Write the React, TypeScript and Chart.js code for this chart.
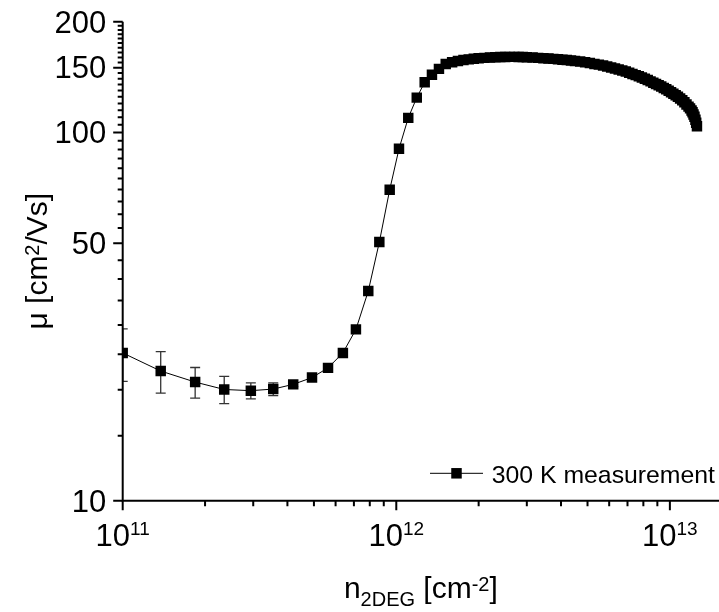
import React, { useEffect, useRef } from 'react';
import { Chart, registerables } from 'chart.js';

Chart.register(...registerables);

// n2DEG sheet density [cm^-2]
const densityCm2 = [
  1.0e11, 1.377e11, 1.84e11, 2.35e11, 2.94e11, 3.55e11, 4.2e11, 4.92e11, 5.63e11, 6.38e11, 7.12e11,
  7.9e11, 8.67e11, 9.46e11, 1.023e12, 1.106e12, 1.188e12, 1.27e12, 1.35e12, 1.432e12, 1.516e12,
  1.6e12, 1.68e12, 1.76e12, 1.84e12, 1.92e12, 2.0e12, 2.1e12, 2.2e12, 2.3e12, 2.4e12, 2.5e12, 2.6e12,
  2.7e12, 2.8e12, 2.9e12, 3.0e12,
  3.15e12, 3.3e12, 3.45e12, 3.6e12, 3.75e12, 3.9e12, 4.05e12, 4.2e12, 4.35e12, 4.5e12,
  4.7e12, 4.9e12, 5.1e12, 5.3e12, 5.5e12, 5.7e12, 5.9e12, 6.1e12, 6.3e12, 6.5e12, 6.7e12, 6.9e12,
  7.1e12, 7.3e12, 7.5e12, 7.7e12, 7.9e12, 8.1e12, 8.3e12, 8.5e12, 8.7e12, 8.9e12, 9.1e12, 9.3e12,
  9.5e12, 9.7e12, 9.9e12,
  1.01e13, 1.03e13, 1.05e13, 1.07e13, 1.09e13, 1.11e13, 1.13e13, 1.15e13, 1.17e13,
  1.185e13, 1.2e13, 1.21e13, 1.22e13, 1.23e13, 1.24e13, 1.248e13, 1.256e13,
];

// mobility [cm^2/Vs]
const mobility = [
  25.2, 22.5, 21.0, 20.05, 19.9, 20.1, 20.7, 21.6, 22.95, 25.2, 29.2,
  37.1, 50.4, 69.9, 90.3, 109.6, 124.4, 136.9, 143.6, 148.9, 153.6,
  155.2, 156.4, 157.3, 158.0, 158.6, 159.1, 159.5, 159.8, 160.1, 160.3, 160.4, 160.5,
  160.5, 160.4, 160.3, 160.1,
  159.8, 159.5, 159.2, 158.9, 158.5, 158.1, 157.7, 157.3, 156.9, 156.5,
  155.9, 155.2, 154.4, 153.6, 152.9, 152.0, 151.1, 150.2, 149.3, 148.4, 147.4, 146.4,
  145.3, 144.3, 143.2, 142.2, 141.0, 139.9, 138.8, 137.7, 136.6, 135.5, 134.4, 133.3,
  132.2, 131.0, 129.8,
  128.6, 127.4, 126.2, 125.0, 123.7, 122.3, 120.8, 119.2, 117.6,
  116.3, 114.8, 113.5, 112.0, 110.3, 108.3, 106.3, 104.0,
];

// symmetric error of the first points (rest have no visible error bars)
const mobilityError = [4.1, 2.9, 2.0, 1.7, 1.0, 0.8, 0.3];

const seriesLabel = '300 K measurement';

const xMajorTicks = [1e11, 1e12, 1e13];
const xMajorExponents = ['11', '12', '13'];
const xMinorTicks = [
  2e11, 3e11, 4e11, 5e11, 6e11, 7e11, 8e11, 9e11,
  2e12, 3e12, 4e12, 5e12, 6e12, 7e12, 8e12, 9e12,
];
const yMajorTicks = [10, 50, 100, 150, 200];
const yMinorTicks = [
  15, 20, 25, 30, 35, 40, 45, 55, 60, 65, 70, 75, 80, 85, 90, 95,
  105, 110, 115, 120, 125, 130, 135, 140, 145, 155, 160, 165, 170, 175, 180, 185, 190, 195,
];

const FONT = '"Liberation Sans", Arial, Helvetica, sans-serif';

type Part = { t: string; size: number; dy: number };

function richWidth(ctx: CanvasRenderingContext2D, parts: Part[]) {
  let w = 0;
  for (const p of parts) {
    ctx.font = `${p.size}px ${FONT}`;
    w += ctx.measureText(p.t).width;
  }
  return w;
}

function drawRich(ctx: CanvasRenderingContext2D, parts: Part[], x: number, y: number) {
  let cx = x;
  ctx.textAlign = 'left';
  ctx.textBaseline = 'alphabetic';
  for (const p of parts) {
    ctx.font = `${p.size}px ${FONT}`;
    ctx.fillText(p.t, cx, y + p.dy);
    cx += ctx.measureText(p.t).width;
  }
}

const decorPlugin = {
  id: 'decor',
  beforeDatasetsDraw(chart: any) {
    const { ctx, chartArea: ca } = chart;
    const xs = chart.scales.x;
    const ys = chart.scales.y;
    ctx.save();
    ctx.beginPath();
    ctx.rect(ca.left, ca.top, ca.right - ca.left, ca.bottom - ca.top);
    ctx.clip();
    ctx.strokeStyle = '#333';
    ctx.lineWidth = 1.3;
    mobilityError.forEach((err, i) => {
      if (!err) return;
      const px = xs.getPixelForValue(densityCm2[i]);
      const top = ys.getPixelForValue(mobility[i] + err);
      const bot = ys.getPixelForValue(mobility[i] - err);
      ctx.beginPath();
      ctx.moveTo(px, top);
      ctx.lineTo(px, bot);
      ctx.moveTo(px - 5, top);
      ctx.lineTo(px + 5, top);
      ctx.moveTo(px - 5, bot);
      ctx.lineTo(px + 5, bot);
      ctx.stroke();
    });
    ctx.restore();
  },
  afterDraw(chart: any) {
    const { ctx, chartArea: ca } = chart;
    const xs = chart.scales.x;
    const ys = chart.scales.y;
    ctx.save();
    ctx.fillStyle = '#000';
    ctx.strokeStyle = '#000';
    ctx.lineWidth = 2;
    ctx.lineCap = 'butt';

    // axis lines
    ctx.beginPath();
    ctx.moveTo(ca.left, ca.top);
    ctx.lineTo(ca.left, ca.bottom);
    ctx.moveTo(ca.left - 1, ca.bottom);
    ctx.lineTo(ca.right, ca.bottom);
    ctx.stroke();

    // y ticks
    ctx.beginPath();
    for (const v of yMajorTicks) {
      const py = ys.getPixelForValue(v);
      ctx.moveTo(ca.left - 9.5, py);
      ctx.lineTo(ca.left, py);
    }
    for (const v of yMinorTicks) {
      const py = ys.getPixelForValue(v);
      ctx.moveTo(ca.left - 5, py);
      ctx.lineTo(ca.left, py);
    }
    // x ticks
    for (const v of xMajorTicks) {
      const px = xs.getPixelForValue(v);
      ctx.moveTo(px, ca.bottom);
      ctx.lineTo(px, ca.bottom + 9.5);
    }
    for (const v of xMinorTicks) {
      const px = xs.getPixelForValue(v);
      ctx.moveTo(px, ca.bottom);
      ctx.lineTo(px, ca.bottom + 5.5);
    }
    ctx.stroke();

    // y tick labels
    ctx.font = `31px ${FONT}`;
    ctx.textAlign = 'right';
    ctx.textBaseline = 'alphabetic';
    for (const v of yMajorTicks) {
      const py = ys.getPixelForValue(v);
      ctx.fillText(String(v), ca.left - 16.5, py + 10.8);
    }

    // x tick labels 10^n
    xMajorTicks.forEach((v, i) => {
      const px = xs.getPixelForValue(v);
      const parts: Part[] = [
        { t: '10', size: 31, dy: 0 },
        { t: xMajorExponents[i], size: 19, dy: -10.5 },
      ];
      const w = richWidth(ctx, parts);
      drawRich(ctx, parts, px - w / 2, ca.bottom + 45);
    });

    // x axis title
    const xt: Part[] = [
      { t: 'n', size: 30, dy: 0 },
      { t: '2DEG', size: 20, dy: 8.4 },
      { t: ' [cm', size: 30, dy: 0 },
      { t: '-2', size: 20, dy: -7 },
      { t: ']', size: 30, dy: 0 },
    ];
    const xtw = richWidth(ctx, xt);
    drawRich(ctx, xt, (ca.left + ca.right) / 2 - xtw / 2, 598);

    // y axis title
    const yt: Part[] = [
      { t: '\u03bc [cm', size: 30, dy: 0 },
      { t: '2', size: 20, dy: -8 },
      { t: '/Vs]', size: 30, dy: 0 },
    ];
    const ytw = richWidth(ctx, yt);
    ctx.save();
    ctx.translate(46.5, (ca.top + ca.bottom) / 2);
    ctx.rotate(-Math.PI / 2);
    drawRich(ctx, yt, -ytw / 2, 0);
    ctx.restore();

    // legend
    const ly = ca.bottom - 27.4;
    ctx.lineWidth = 1;
    ctx.beginPath();
    ctx.moveTo(ca.right - 289, ly);
    ctx.lineTo(ca.right - 236, ly);
    ctx.stroke();
    const side = 10.5;
    ctx.fillRect(ca.right - 262.5 - side / 2, ly - side / 2, side, side);
    ctx.font = `24.8px ${FONT}`;
    ctx.textAlign = 'left';
    ctx.fillText(seriesLabel, ca.right - 227.3, ly + 9.7);

    ctx.restore();
  },
};

export default function App() {
  const canvasRef = useRef<HTMLCanvasElement | null>(null);

  useEffect(() => {
    const canvas = canvasRef.current;
    if (!canvas) return;
    const chart = new Chart(canvas, {
      type: 'line',
      data: {
        datasets: [
          {
            label: seriesLabel,
            data: densityCm2.map((x, i) => ({ x, y: mobility[i] })),
            borderColor: '#000',
            borderWidth: 1,
            backgroundColor: '#000',
            pointStyle: 'rect',
            pointRadius: 7.4,
            pointBackgroundColor: '#000',
            pointBorderWidth: 0,
            tension: 0,
            fill: false,
          },
        ],
      },
      options: {
        animation: false,
        responsive: false,
        devicePixelRatio: 1,
        events: [],
        layout: {
          autoPadding: false,
          padding: { left: 122.7, top: 21.7, right: 0, bottom: 111.3 },
        },
        scales: {
          x: {
            type: 'logarithmic',
            min: 1e11,
            max: 1.512e13,
            display: false,
          },
          y: {
            type: 'logarithmic',
            min: 10,
            max: 200,
            display: false,
          },
        },
        plugins: {
          legend: { display: false },
          tooltip: { enabled: false },
        },
      } as any,
      plugins: [decorPlugin],
    });
    return () => chart.destroy();
  }, []);

  return (
    <div style={{ position: 'absolute', left: 0, top: 0, width: 719, height: 612, background: '#fff' }}>
      <canvas ref={canvasRef} width={719} height={612} style={{ display: 'block' }} />
    </div>
  );
}
